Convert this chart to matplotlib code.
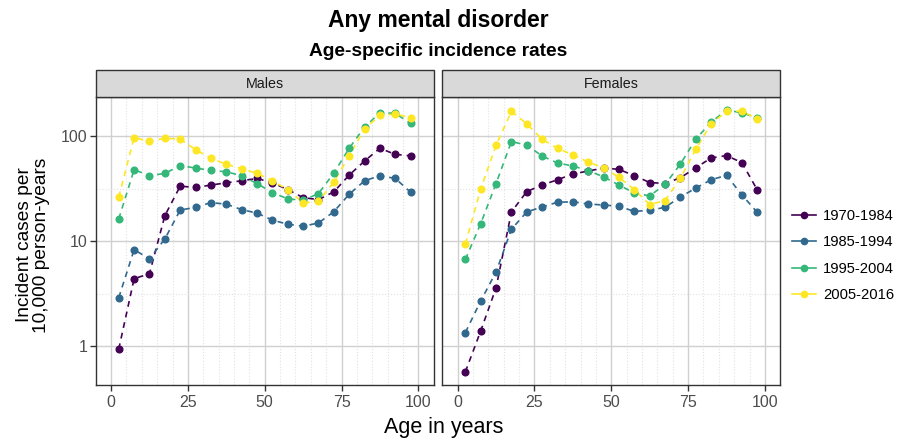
import numpy as np
import matplotlib
matplotlib.use("Agg")
import matplotlib.pyplot as plt
from matplotlib.lines import Line2D
from matplotlib.patches import Rectangle
from matplotlib.ticker import FixedLocator, NullFormatter

plt.rcParams['font.family'] = ['Liberation Sans', 'DejaVu Sans']

ages = [2.5, 7.5, 12.5, 17.5, 22.5, 27.5, 32.5, 37.5, 42.5, 47.5,
        52.5, 57.5, 62.5, 67.5, 72.5, 77.5, 82.5, 87.5, 92.5, 97.5]
periods = ["1970-1984", "1985-1994", "1995-2004", "2005-2016"]
colors = ["#440154", "#31688E", "#35B779", "#FDE725"]
facets = ["Males", "Females"]

males_1970 = [0.94, 4.4, 4.9, 17.5, 33.4, 32.5, 34.2, 36, 37.6, 39.6, 36, 31, 26, 24.9, 29.5, 42.6, 58, 76.7, 67, 65]
males_1985 = [2.9, 8.3, 6.8, 10.5, 19.8, 21, 23.3, 22.5, 20, 18.5, 15.9, 14.5, 13.9, 14.9, 19.1, 28, 37.6, 42, 39.6, 29.2]
males_1995 = [16.3, 48, 42, 44.2, 52.4, 49.7, 47.2, 45.8, 42, 35.4, 29, 25.3, 24.5, 28.4, 44.5, 76.7, 122, 167, 165, 132]
males_2005 = [26.3, 97, 89, 95.7, 93.6, 74.5, 61.5, 53.9, 49, 44.2, 37.6, 31, 23.1, 24, 36.5, 65, 117, 158, 162, 150]

females_1970 = [0.57, 1.40, 3.6, 19, 29.7, 34.2, 38.5, 43.6, 46.6, 49.7, 48.3, 42, 36.2, 35.4, 40.2, 50, 62, 65.3, 56, 30.8]
females_1985 = [1.35, 2.7, 5.1, 13, 19, 21.2, 23.5, 23.7, 22.6, 22.1, 21.5, 19.2, 19.7, 21, 26.4, 32, 38.5, 42.3, 27.6, 18.8]
females_1995 = [6.7, 14.7, 35.4, 88.9, 82, 64.7, 55.5, 52, 46.9, 41, 34.2, 28.8, 27, 34.7, 54.3, 93.6, 136, 177, 167, 149]
females_2005 = [9.4, 31.3, 82, 172, 131, 93, 76.7, 66.2, 56.8, 49.7, 40.5, 31, 22.3, 24.4, 39.9, 75, 131, 172, 173, 146]

data = {
    "Males": [males_1970, males_1985, males_1995, males_2005],
    "Females": [females_1970, females_1985, females_1995, females_2005],
}

x_ticks = [0, 25, 50, 75, 100]
x_minor = [5, 10, 15, 20, 30, 35, 40, 45, 55, 60, 65, 70, 80, 85, 90, 95]
y_ticks = [1, 10, 100]
y_tick_labels = ["1", "10", "100"]

allv = np.concatenate([np.array(v) for f in facets for v in data[f]])
lo, hi = np.log10(allv.min()), np.log10(allv.max())
pad = 0.05 * (hi - lo)
ylim = (10 ** (lo - pad), 10 ** (hi + pad))

W, H = 909, 446
fig = plt.figure(figsize=(W / 100, H / 100), dpi=100)

panel_lefts = [95.7, 442.3]
panel_w = 338.0
panel_top, panel_bot = 97.0, 385.0
strip_top = 70.0

dark = "#333333"
for i, (fname, pl) in enumerate(zip(facets, panel_lefts)):
    ax = fig.add_axes([pl / W, 1 - panel_bot / H, panel_w / W, (panel_bot - panel_top) / H])
    ax.set_yscale('log')
    ax.set_xlim(-5, 105)
    ax.set_ylim(*ylim)
    ax.xaxis.set_major_locator(FixedLocator(x_ticks))
    ax.xaxis.set_minor_locator(FixedLocator(x_minor))
    ax.yaxis.set_major_locator(FixedLocator(y_ticks))
    ax.yaxis.set_minor_locator(FixedLocator([10 ** 0.5, 10 ** 1.5]))
    ax.yaxis.set_minor_formatter(NullFormatter())
    ax.set_xticklabels([str(t) for t in x_ticks])
    if i == 0:
        ax.set_yticklabels(y_tick_labels)
        ax.tick_params(axis='y', which='major', length=4, width=1, color=dark,
                       labelsize=11.5, labelcolor="#4D4D4D", pad=2)
    else:
        ax.tick_params(axis='y', which='major', length=0, labelleft=False)
    ax.tick_params(axis='y', which='minor', length=0)
    ax.tick_params(axis='x', which='major', length=4, width=1, color=dark,
                   labelsize=11.5, labelcolor="#4D4D4D", pad=3)
    ax.tick_params(axis='x', which='minor', length=0)
    ax.grid(True, which='major', color="#D0D0D0", lw=1.0, zorder=0)
    ax.grid(True, which='minor', color="#E2E2E2", lw=0.8, ls=':', zorder=0)
    ax.set_axisbelow(True)
    for s in ax.spines.values():
        s.set_color(dark)
        s.set_linewidth(1.0)

    for vals, col in zip(data[fname], colors):
        ax.plot(ages, vals, color=col, lw=1.2, dashes=(3.5, 3.0), zorder=2)
    for vals, col in zip(data[fname], colors):
        ax.plot(ages, vals, ls='none', marker='o', ms=4.8, color=col, zorder=3)

    # strip
    r = Rectangle((pl / W, 1 - panel_top / H), panel_w / W, (panel_top - strip_top) / H,
                  transform=fig.transFigure, facecolor="#D9D9D9", edgecolor=dark, lw=1.0)
    fig.add_artist(r)
    fig.text((pl + panel_w / 2) / W, 1 - (strip_top + panel_top) / 2 / H, fname,
             ha='center', va='center', fontsize=10.3, color="#1A1A1A")

center_x = (panel_lefts[0] + panel_lefts[1] + panel_w) / 2 / W
fig.text(center_x, 1 - 21 / H, "Any mental disorder", ha='center', va='center',
         fontsize=16.5, fontweight='bold')
fig.text(center_x, 1 - 52 / H, "Age-specific incidence rates", ha='center', va='center',
         fontsize=13.8, fontweight='bold')
fig.text(center_x + 6 / W, 1 - 428 / H, "Age in years", ha='center', va='center', fontsize=15.5)
fig.text(33 / W, 1 - 245 / H, "Incident cases per\n10,000 person-years", ha='center',
         va='center', rotation=90, fontsize=13.8, linespacing=1.0)

handles = [Line2D([0], [0], color=c, lw=1.2, marker='o', ms=4.5) for c in colors]
fig.legend(handles, periods, loc='center left', bbox_to_anchor=(792 / W, 1 - 255.5 / H),
           frameon=False, fontsize=10.6, handlelength=1.6, handletextpad=0.5,
           labelspacing=0.85, borderaxespad=0, borderpad=0)

fig.savefig("out.png", dpi=100)
